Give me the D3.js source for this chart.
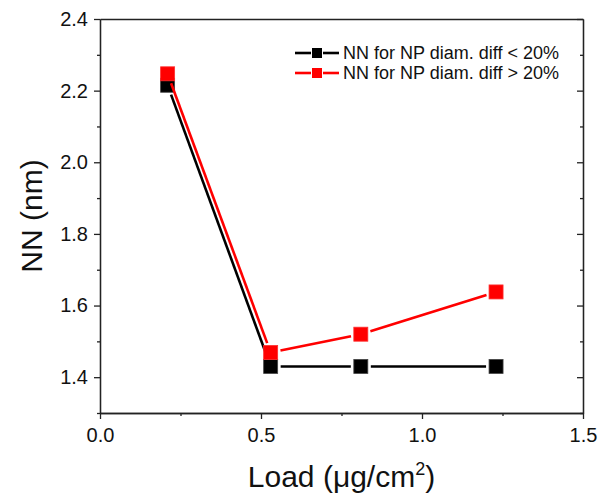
<!DOCTYPE html>
<html>
<head>
<meta charset="utf-8">
<script src="https://cdn.jsdelivr.net/npm/d3@7"></script>
<style>
  body { margin: 0; background: #fff; }
  svg { display: block; font-family: "Liberation Sans", Arial, sans-serif; }
</style>
</head>
<body>
<svg id="chart" width="600" height="494"></svg>
<script>
"use strict"

// data
const load = [0.21, 0.53, 0.81, 1.23]
const nnSmall = [2.215, 1.43, 1.43, 1.43]
const nnLarge = [2.247, 1.469, 1.52, 1.638]
const seriesNames = ['NN for NP diam. diff < 20%', 'NN for NP diam. diff > 20%']
const seriesColors = ['#000000', '#ff0000']
const xTicks = [0, 0.5, 1.0, 1.5]
const xMinor = [0.25, 0.75, 1.25]
const yTicks = [1.4, 1.6, 1.8, 2.0, 2.2, 2.4]
const yMinor = [1.3, 1.5, 1.7, 1.9, 2.1, 2.3]

const margin = {left: 100, right: 17, top: 19, bottom: 81}
const svg = d3.select('#chart')
const W = +svg.attr('width'), H = +svg.attr('height')
const x = d3.scaleLinear().domain([0, 1.5]).range([margin.left, W - margin.right])
const y = d3.scaleLinear().domain([1.3, 2.4]).range([H - margin.bottom, margin.top])

const axisColor = '#222'
function styleAxis(g) {
  g.selectAll('path, line').attr('stroke', axisColor).attr('stroke-width', 1.3)
  g.selectAll('text').attr('fill', '#111').style('font-size', '20px').style('font-family', '"Liberation Sans", Arial, sans-serif')
}

// left axis (ticks outward)
svg.append('g').attr('transform', `translate(${x(0)},0)`)
  .call(d3.axisLeft(y).tickValues(yTicks).tickFormat(d3.format('.1f')).tickSize(6).tickSizeOuter(0).tickPadding(6))
  .call(styleAxis)
svg.append('g').attr('transform', `translate(${x(0)},0)`)
  .call(d3.axisLeft(y).tickValues(yMinor).tickFormat('').tickSize(3).tickSizeOuter(0))
  .call(styleAxis)

// bottom axis (ticks outward)
svg.append('g').attr('transform', `translate(0,${y(1.3)})`)
  .call(d3.axisBottom(x).tickValues(xTicks).tickFormat(d3.format('.1f')).tickSize(6).tickSizeOuter(0).tickPadding(9))
  .call(styleAxis)
svg.append('g').attr('transform', `translate(0,${y(1.3)})`)
  .call(d3.axisBottom(x).tickValues(xMinor).tickFormat('').tickSize(3).tickSizeOuter(0))
  .call(styleAxis)

// right axis (ticks inward, no labels)
svg.append('g').attr('transform', `translate(${x(1.5)},0)`)
  .call(d3.axisRight(y).tickValues(yTicks).tickFormat('').tickSize(-6).tickSizeOuter(0))
  .call(styleAxis)
svg.append('g').attr('transform', `translate(${x(1.5)},0)`)
  .call(d3.axisRight(y).tickValues(yMinor).tickFormat('').tickSize(-3).tickSizeOuter(0))
  .call(styleAxis)

// top frame line
svg.append('g').attr('transform', `translate(0,${y(2.4)})`)
  .call(d3.axisTop(x).tickValues([]).tickSizeOuter(0))
  .call(styleAxis)

// series: lines trimmed short of the markers, then square markers
const size = 14, gap = 10
function drawSeries(vals, color) {
  const pts = load.map((d, i) => [x(d), y(vals[i])])
  const segs = d3.pairs(pts)
  svg.append('g').selectAll('line').data(segs).enter().append('line')
    .each(function([a, b]) {
      const dx = b[0] - a[0], dy = b[1] - a[1], len = Math.hypot(dx, dy)
      const ux = dx / len, uy = dy / len
      d3.select(this)
        .attr('x1', a[0] + ux * gap).attr('y1', a[1] + uy * gap)
        .attr('x2', b[0] - ux * gap).attr('y2', b[1] - uy * gap)
    })
    .attr('stroke', color).attr('stroke-width', 2.6)
  svg.append('g').selectAll('rect').data(pts).enter().append('rect')
    .attr('x', d => d[0] - size / 2).attr('y', d => d[1] - size / 2)
    .attr('width', size).attr('height', size)
    .attr('fill', color).attr('stroke', color === '#000000' ? '#444' : '#ff3030').attr('stroke-width', 0.8)
}
drawSeries(nnSmall, seriesColors[0])
drawSeries(nnLarge, seriesColors[1])

// legend
const legend = svg.append('g').attr('transform', 'translate(295,53)')
seriesNames.forEach((name, i) => {
  const g = legend.append('g').attr('transform', `translate(0,${i * 20})`)
  g.append('line').attr('x1', 0).attr('x2', 16).attr('stroke', seriesColors[i]).attr('stroke-width', 2.6)
  g.append('line').attr('x1', 28).attr('x2', 44).attr('stroke', seriesColors[i]).attr('stroke-width', 2.6)
  g.append('rect').attr('x', 17).attr('y', -5).attr('width', 10).attr('height', 10).attr('fill', seriesColors[i])
  g.append('text').attr('x', 48).attr('y', 6).text(name)
    .style('font-size', '18px').attr('fill', '#111')
})

// axis titles
svg.append('text')
  .attr('transform', `translate(42,${(y(1.3) + y(2.4)) / 2}) rotate(-90)`)
  .attr('text-anchor', 'middle')
  .style('font-size', '30px').attr('fill', '#111')
  .text('NN (nm)')

const xt = svg.append('text')
  .attr('x', (x(0) + x(1.5)) / 2).attr('y', 487)
  .attr('text-anchor', 'middle')
  .style('font-size', '30px').attr('fill', '#111')
xt.append('tspan').text('Load (μg/cm')
xt.append('tspan').attr('dy', -12).style('font-size', '18px').text('2')
xt.append('tspan').attr('dy', 12).text(')')
</script>
</body>
</html>
